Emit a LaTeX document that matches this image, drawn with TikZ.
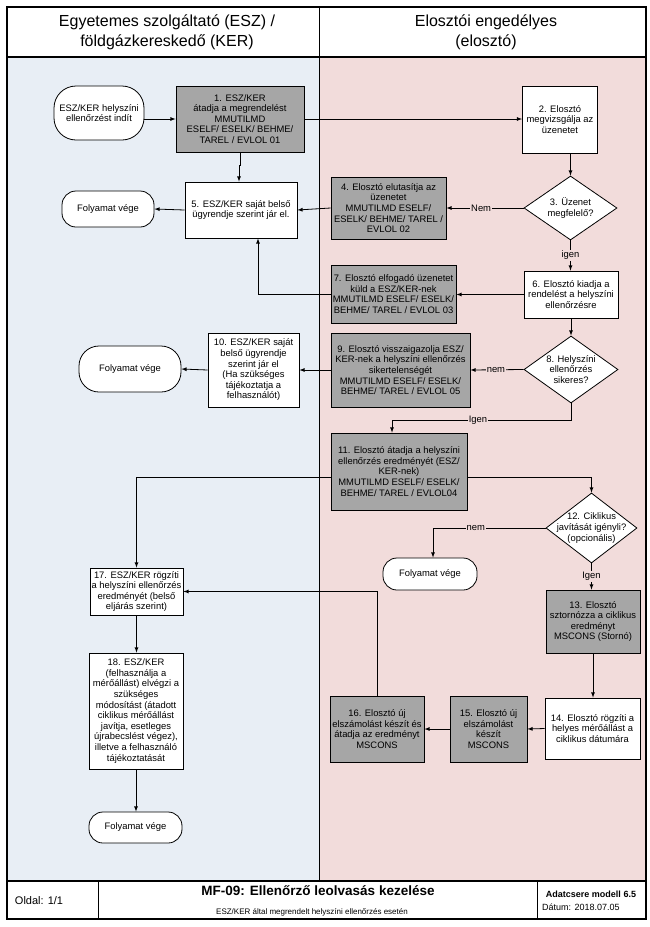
\documentclass[tikz,border=0pt]{standalone}
\usepackage{fontspec}
\setmainfont{Liberation Sans}
\usetikzlibrary{shapes.geometric}

\definecolor{laneblue}{HTML}{E8EEF5}
\definecolor{lanepink}{HTML}{F2DCDB}
\definecolor{msggray}{HTML}{A6A6A6}
\newcommand{\flowfont}{\fontsize{9.4}{10.6}\selectfont}

\tikzset{
  box/.style       = {shape=rectangle, draw, align=center, line width=0.8pt,
                      font=\flowfont, inner sep=1pt},
  msgbox/.style    = {box, fill=msggray},
  stepbox/.style   = {box, fill=white},
  endbox/.style    = {box, fill=white, rounded corners=14pt},
  decision/.style  = {shape=diamond, draw, fill=white, line width=0.8pt, inner sep=0pt},
  dtext/.style     = {font=\flowfont, align=center},
  flowlabel/.style = {font=\flowfont, fill=lanepink, inner sep=1pt},
  dims/.style 2 args = {minimum width=#1pt, minimum height=#2pt}
}

\begin{document}
\begin{tikzpicture}
[
x=1pt, y=-1pt,
    flow/.style       = {draw, line width=0.8pt, -latex},
    every node/.style = {font=\flowfont}
  ]
\useasboundingbox (0,0) rectangle (649,927);
\fill[white] (0,0) rectangle (649,927);
\fill[laneblue] (7,57) rectangle (319,881);
\fill[lanepink] (319,57) rectangle (646,881);
\draw[line width=1pt] (319,7) -- (319,881);
\draw[line width=1.6pt] (7,57) -- (646,57);
\draw[line width=2pt] (7,881) -- (646,881);
\draw[line width=1pt] (98,881) -- (98,919) (537,881) -- (537,919);
\draw[line width=1.8pt] (7,7) rectangle (646,919);

\node[align=center, font=\fontsize{16}{20}\selectfont] (hesz) at (167,32)
  {Egyetemes szolgáltató (ESZ) /\\földgázkereskedő (KER)};
\node[align=center, font=\fontsize{16}{20}\selectfont] (helo) at (486,32)
  {Elosztói engedélyes\\(elosztó)};

\node[endbox, rounded corners=22pt, dims={90}{54}] (start) at (99,113)
  {ESZ/KER helyszíni\\ellenőrzést indít};
\node[msgbox, dims={128}{66}] (n1) at (240,119)
  {1. ESZ/KER\\átadja a megrendelést\\MMUTILMD\\ESELF/ ESELK/ BEHME/\\TAREL / EVLOL 01};
\node[stepbox, dims={75}{67}] (n2) at (560,119.5)
  {2. Elosztó\\megvizsgálja az\\üzenetet};
\node[decision, dims={93}{64}, label={[dtext]center:{3. Üzenet\\megfelelő?}}] (d3) at (570.5,208) {};
\node[msgbox, dims={115}{62}] (n4) at (388.5,208)
  {4. Elosztó elutasítja az\\üzenetet\\MMUTILMD ESELF/\\ESELK/ BEHME/ TAREL /\\EVLOL 02};
\node[stepbox, dims={112}{56}] (n5) at (241,210)
  {5. ESZ/KER saját belső\\ügyrendje szerint jár el.};
\node[endbox, dims={92}{36}] (fv1) at (108,209) {Folyamat vége};
\node[stepbox, dims={94}{47}] (n6) at (571,294.5)
  {6. Elosztó kiadja a\\rendelést a helyszíni\\ellenőrzésre};
\node[msgbox, dims={125}{58}] (n7) at (393.5,294)
  {7. Elosztó elfogadó üzenetet\\küld a ESZ/KER-nek\\MMUTILMD ESELF/ ESELK/\\BEHME/ TAREL / EVLOL 03};
\node[decision, dims={94}{67}, label={[dtext]center:{8. Helyszíni\\ellenőrzés\\sikeres?}}] (d8) at (571,369.5) {};
\node[msgbox, dims={139}{74}] (n9) at (400.5,370)
  {9. Elosztó visszaigazolja ESZ/\\KER-nek a helyszíni ellenőrzés\\sikertelenségét\\MMUTILMD ESELF/ ESELK/\\BEHME/ TAREL / EVLOL 05};
\node[stepbox, dims={91}{74}] (n10) at (253.5,370)
  {10. ESZ/KER saját\\belső ügyrendje\\szerint jár el\\(Ha szükséges\\tájékoztatja a\\felhasználót)};
\node[endbox, rounded corners=20pt, dims={102}{46}] (fv2) at (130,369) {Folyamat vége};
\node[msgbox, dims={136}{77}] (n11) at (399,471.5)
  {11. Elosztó átadja a helyszíni\\ellenőrzés eredményét (ESZ/\\KER-nek)\\MMUTILMD ESELF/ ESELK/\\BEHME/ TAREL / EVLOL04};
\node[decision, dims={91}{70}, label={[dtext]center:{12. Ciklikus\\javítását igényli?\\(opcionális)}}] (d12) at (591.5,528) {};
\node[endbox, dims={94}{32}] (fv3) at (430,574) {Folyamat vége};
\node[msgbox, dims={94}{63}] (n13) at (593,621.5)
  {13. Elosztó\\sztornózza a ciklikus\\eredményt\\MSCONS (Stornó)};
\node[stepbox, dims={95}{61}] (n14) at (592.5,728.5)
  {14. Elosztó rögzíti a\\helyes mérőállást a\\ciklikus dátumára};
\node[msgbox, dims={77}{66}] (n15) at (488.5,729)
  {15. Elosztó új\\elszámolást\\készít\\MSCONS};
\node[msgbox, dims={94}{66}] (n16) at (377,729)
  {16. Elosztó új\\elszámolást készít és\\átadja az eredményt\\MSCONS};
\node[stepbox, dims={93}{47}] (n17) at (136.5,591.5)
  {17. ESZ/KER rögzíti\\a helyszíni ellenőrzés\\eredményét (belső\\eljárás szerint)};
\node[stepbox, dims={94}{116}] (n18) at (136,711)
  {18. ESZ/KER\\(felhasználja a\\mérőállást) elvégzi a\\szükséges\\módosítást (átadott\\ciklikus mérőállást\\javítja,  esetleges\\újrabecslést végez),\\illetve a felhasználó\\tájékoztatását};
\node[endbox, dims={93}{31}] (fv4) at (135.5,827.5) {Folyamat vége};

\draw[flow] (start.east |- n1.west) -- (n1.west);
\draw[flow] (n1.east) -- (n1.east -| n2.west);
\draw[flow] (n1.south) -- ++(0,13) -| ([xshift=-2pt]n5.north);
\draw[flow] (n2.south -| d3) -- (d3.north);
\draw[flow] (d3.west) -- node[flowlabel, pos=0.55]{Nem} (n4.east);
\draw[flow] (n4.west) -- (n5.east);
\draw[flow] (n5.west) -- (fv1.east);
\draw[flow] (d3.south) -- node[flowlabel]{igen} (d3.south |- n6.north);
\draw[flow] (n6.west) -- (n6.west -| n7.east);
\draw[flow] (n7.west) -| ([xshift=17pt]n5.south);
\draw[flow] (n6.south) -- (d8.north);
\draw[flow] (d8.west) -- node[flowlabel, pos=0.52]{nem} (n9.east);
\draw[flow] (n9.west) -- (n10.east);
\draw[flow] (n10.west) -- (fv2.east);
\draw[flow] (d8.south) -- ++(0,17) -| node[flowlabel, pos=0.26]{Igen} ([xshift=-7pt]n11.north);
\draw[flow] ([yshift=-6pt]n11.west) -| (n17.north);
\draw[flow] ([yshift=-6pt]n11.east) -| (d12.north);
\draw[flow] (d12.west) -| node[flowlabel, pos=0.31]{nem} ([xshift=3pt]fv3.north);
\draw[flow] (d12.south) -- node[flowlabel]{Igen} (d12.south |- n13.north);
\draw[flow] (n13.south) -- (n13.south |- n14.north);
\draw[flow] (n14.west) -- (n15.east);
\draw[flow] (n15.west) -- (n16.east);
\draw[flow] (n16.north) |- (n17.east);
\draw[flow] (n17.south) -- (n17.south |- n18.north);
\draw[flow] (n18.south) -- (n18.south |- fv4.north);

\node[font=\fontsize{11}{13}\selectfont] (page) at (39,901) {Oldal: 1/1};
\node[font=\fontsize{13.5}{16}\selectfont\bfseries] (title) at (318,891)
  {MF-09: Ellenőrző leolvasás kezelése};
\node[font=\fontsize{8}{10}\selectfont] (subtitle) at (312,912)
  {ESZ/KER által megrendelt helyszíni ellenőrzés esetén};
\node[font=\fontsize{9}{11}\selectfont\bfseries] (model) at (591,894) {Adatcsere modell 6.5};
\node[anchor=west, inner sep=0pt, font=\fontsize{9}{11}\selectfont] (date) at (542,907) {Dátum: 2018.07.05};
\end{tikzpicture}
\end{document}
